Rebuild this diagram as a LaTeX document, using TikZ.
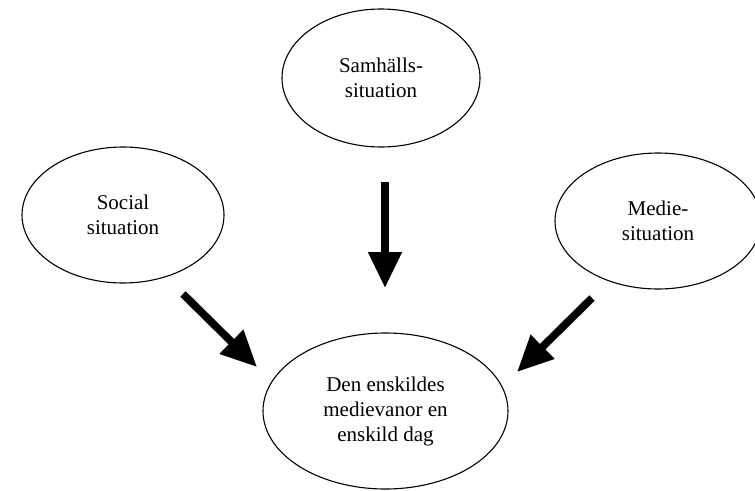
\documentclass[tikz,border=0pt]{standalone}
\usepackage{fontspec}
\setmainfont{Liberation Serif}
\usetikzlibrary{shapes.geometric,arrows.meta}

\tikzset{
  oval/.style={ellipse, draw=black, line width=1.1pt, inner sep=0pt,
    align=center, font=\fontsize{21}{25}\selectfont},
  bigarrow/.style={draw=black, line width=7.7pt,
    -{Triangle[length=36pt, width=32pt]}}
}

\begin{document}
\begin{tikzpicture}[x=1pt, y=-1pt]
  \useasboundingbox (0,0) rectangle (755,490);

  % influencing situations
  \node[oval, minimum width=198pt, minimum height=138pt] (samh) at (381,78) {Samhälls-\\situation};
  \node[oval, minimum width=202pt, minimum height=136pt] (social) at (123,215) {Social\\situation};
  \node[oval, minimum width=206pt, minimum height=136pt] (medie) at (658,221) {Medie-\\situation};

  % the outcome
  \node[oval, minimum width=245pt, minimum height=156pt] (den) at (385.5,411) {Den enskildes\\medievanor en\\enskild dag};

  % free arrow ends
  \coordinate (samhFrom) at (385,182);
  \coordinate (samhTo)   at (385,288);
  \coordinate (socFrom)  at (183,294);
  \coordinate (socTo)    at (257,367);
  \coordinate (medFrom)  at (592,298);
  \coordinate (medTo)    at (517,372);

  \draw[bigarrow] (samhFrom) -- (samhTo);
  \draw[bigarrow] (socFrom) -- (socTo);
  \draw[bigarrow] (medFrom) -- (medTo);
\end{tikzpicture}
\end{document}
